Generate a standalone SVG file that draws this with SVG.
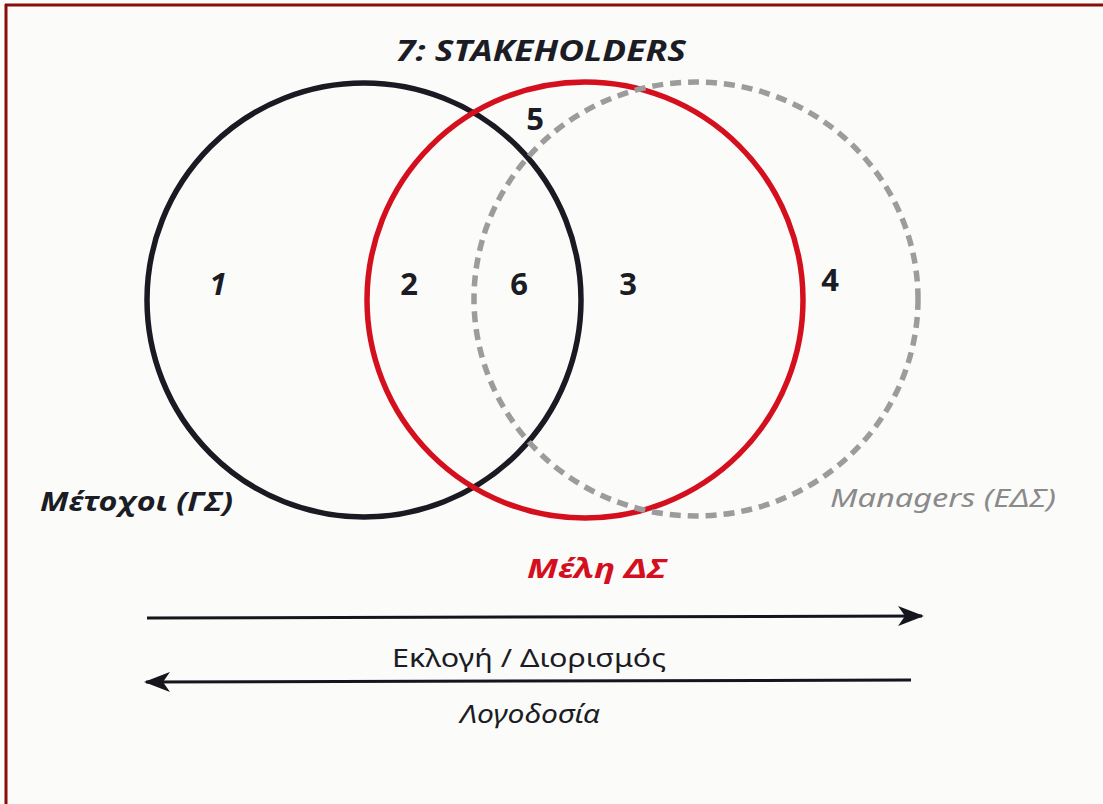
<svg xmlns="http://www.w3.org/2000/svg" width="1103" height="804" viewBox="0 0 1103 804">
<style>
.t{font-family:"Noto Sans","Liberation Sans",sans-serif;}
.bi{font-weight:bold;font-style:italic;}
.num{font-family:"Noto Sans","Liberation Sans",sans-serif;font-weight:bold;font-size:31px;fill:#1c1c24;text-anchor:middle;}
.ring{fill:none;stroke-width:5.5;}
.arr{stroke:#15151c;stroke-width:3;fill:none;}
</style>
<defs>
<marker id="ah" viewBox="0 0 26 20" refX="24" refY="10" markerWidth="26" markerHeight="20" markerUnits="userSpaceOnUse" orient="auto">
<path d="M0,0 L26,10 L0,20 L7,10 Z" fill="#15151c"/>
</marker>
</defs>
<rect x="0" y="0" width="1103" height="804" fill="#fbfbfa"/>
<g id="frame">
<line x1="5" y1="5" x2="1103" y2="5" stroke="#8b0a0a" stroke-width="3"/>
<line x1="6" y1="4" x2="6" y2="804" stroke="#8b0a0a" stroke-width="3"/>
</g>
<g id="title">
<text class="t bi" x="541" y="61" font-size="29" fill="#1c1c24" text-anchor="middle" textLength="290" lengthAdjust="spacingAndGlyphs">7: STAKEHOLDERS</text>
</g>
<g id="shareholders">
<circle class="ring" cx="364" cy="300" r="217" stroke="#1a1a22"/>
<text class="t bi" x="40" y="511" font-size="27" fill="#1c1c24" textLength="193" lengthAdjust="spacingAndGlyphs">Μέτοχοι (ΓΣ)</text>
</g>
<g id="board">
<circle class="ring" cx="585" cy="300" r="218" stroke="#d4101e"/>
<text class="t bi" x="527" y="578" font-size="27" fill="#d4101e" textLength="139" lengthAdjust="spacingAndGlyphs">Μέλη ΔΣ</text>
</g>
<g id="managers">
<ellipse class="ring" cx="696" cy="299" rx="222" ry="217" stroke="#9c9c9c" stroke-dasharray="11 7"/>
<text class="t" x="830" y="507" font-size="26" font-style="italic" fill="#8a8a8a" textLength="226" lengthAdjust="spacingAndGlyphs">Managers (ΕΔΣ)</text>
</g>
<g id="regions">
<text class="num" x="218" y="295" font-family="Liberation Sans" font-style="italic" font-weight="normal">1</text>
<text class="num" x="409" y="295">2</text>
<text class="num" x="519" y="295">6</text>
<text class="num" x="628" y="295">3</text>
<text class="num" x="830" y="291">4</text>
<text class="num" x="535" y="130">5</text>
</g>
<g id="connectors">
<line class="arr" x1="147" y1="618" x2="922" y2="616" marker-end="url(#ah)"/>
<line class="arr" x1="911" y1="680" x2="146" y2="682" marker-end="url(#ah)"/>
</g>
<g id="labels">
<text class="t" x="529" y="667" font-size="25" fill="#1c1c24" text-anchor="middle" textLength="274" lengthAdjust="spacingAndGlyphs">Εκλογή / Διορισμός</text>
<text class="t" x="530" y="723" font-size="25" font-style="italic" fill="#1c1c24" text-anchor="middle" textLength="140" lengthAdjust="spacingAndGlyphs">Λογοδοσία</text>
</g>
</svg>
